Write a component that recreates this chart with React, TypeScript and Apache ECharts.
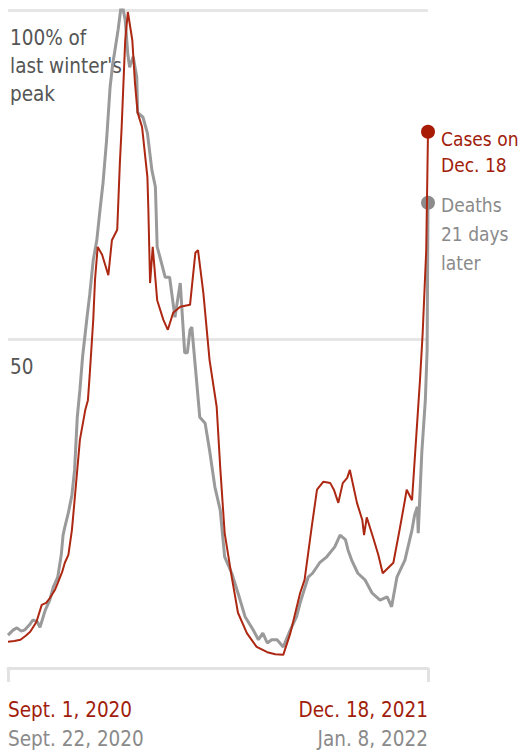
import React, { useEffect, useRef } from "react";
import * as echarts from "echarts";

// Days since Sept. 1, 2020 (cases) / since Sept. 22, 2020 (deaths)
const caseDays = [0, 7, 14, 20, 25, 32, 38, 43, 47, 53, 56, 61, 64, 68, 72, 75, 78, 81, 87, 90, 92, 96, 98, 101, 106, 113, 117, 123, 126, 128, 132, 135, 140, 143, 146, 151, 157, 158, 160, 163, 168, 175, 180, 186, 194, 205, 211, 214, 220, 227, 235, 239, 244, 252, 259, 269, 280, 292, 301, 310, 318, 329, 334, 342, 348, 355, 363, 367, 372, 377, 382, 385, 393, 399, 401, 404, 411, 417, 422, 434, 441, 447, 449, 455, 458, 461, 464, 467, 471, 473];
// Cases, % of last winter's peak
const cases = [4.0, 4.1, 4.3, 4.9, 5.5, 7.0, 9.6, 9.9, 10.6, 11.9, 12.9, 14.6, 16.0, 17.2, 21.0, 25.5, 30.1, 34.7, 39.2, 40.7, 44.5, 52.9, 59.0, 64.0, 62.8, 59.7, 65.0, 66.6, 76.8, 82.2, 95.4, 99.7, 95.4, 88.9, 84.4, 82.2, 74.6, 70.1, 58.5, 64.0, 55.9, 52.9, 51.4, 54.0, 54.9, 55.2, 63.1, 63.5, 57.0, 46.8, 39.7, 30.5, 20.5, 13.8, 8.4, 5.3, 3.2, 2.4, 2.1, 2.0, 5.3, 11.4, 13.4, 21.4, 27.1, 28.3, 28.1, 27.1, 25.1, 28.1, 28.9, 30.1, 25.1, 22.5, 20.2, 22.9, 19.9, 17.2, 14.4, 16.0, 21.0, 25.5, 27.1, 25.5, 31.6, 37.7, 43.8, 50.9, 63.5, 81.5];

const deathDays = [0, 6, 10, 15, 19, 25, 28, 33, 36, 42, 47, 51, 56, 60, 62, 64, 68, 72, 75, 78, 81, 84, 89, 92, 96, 100, 104, 107, 111, 115, 118, 120, 124, 128, 132, 135, 137, 141, 145, 146, 152, 157, 162, 166, 168, 171, 177, 182, 188, 194, 199, 202, 205, 207, 213, 216, 222, 227, 233, 239, 244, 252, 259, 267, 276, 282, 287, 292, 297, 303, 310, 318, 325, 329, 338, 343, 351, 359, 368, 374, 380, 383, 387, 394, 402, 410, 419, 427, 432, 438, 447, 455, 458, 461, 462, 466, 470, 472, 473];
// Deaths 21 days later, % of last winter's peak
const deaths = [5.0, 5.8, 6.1, 5.6, 5.8, 6.7, 7.3, 7.0, 6.2, 8.8, 10.3, 12.3, 13.8, 17.2, 20.2, 21.4, 23.6, 26.3, 30.1, 38.1, 42.3, 47.3, 53.3, 56.7, 62.0, 65.0, 70.1, 73.7, 80.2, 88.3, 91.9, 93.5, 97.0, 101.2, 98.5, 93.2, 91.3, 92.9, 89.8, 84.4, 83.7, 81.3, 75.7, 73.1, 64.0, 62.5, 59.4, 59.4, 53.3, 58.5, 47.9, 47.9, 51.4, 51.8, 42.7, 38.1, 37.2, 33.1, 27.5, 24.0, 16.9, 14.4, 11.4, 7.8, 5.8, 4.3, 5.3, 3.8, 4.3, 4.3, 3.2, 5.8, 7.8, 9.9, 13.8, 14.4, 16.0, 16.9, 18.4, 20.2, 19.5, 17.9, 16.4, 14.4, 13.4, 11.4, 10.3, 10.8, 9.3, 13.8, 16.4, 21.0, 23.3, 24.5, 20.5, 32.7, 40.7, 48.3, 70.7];

const yTickValues = [0, 50, 100];
const yTickLabels = ["", "50", "100% of\nlast winter's\npeak"];
const xTickValues = [0, 473];
const xCaseLabels = ["Sept. 1, 2020", "Dec. 18, 2021"];
const xDeathLabels = ["Sept. 22, 2020", "Jan. 8, 2022"];
const caseEndLabel = "Cases on\nDec. 18";
const deathEndLabel = "Deaths\n21 days\nlater";

const FONT = "'DejaVu Sans Condensed', 'Liberation Sans Narrow', sans-serif";
const RED_LINE = "#ad2812";
const RED_TEXT = "#a11d0b";
const GRAY_LINE = "#9a9a9a";
const GRAY_TEXT = "#8a8a8a";

export default function App() {
  const ref = useRef<HTMLDivElement>(null);
  useEffect(() => {
    if (!ref.current) return;
    const chart = echarts.init(ref.current, undefined, { renderer: "svg" });

    const buildData = (xs: number[], ys: number[], color: string, text: string, labelColor: string, dy: number, lh: number) =>
      ys.map((v, i) =>
        i === ys.length - 1
          ? {
              value: [xs[i], v],
              symbol: "circle",
              symbolSize: 14,
              itemStyle: { color },
              label: {
                show: true,
                position: [20, dy],
                align: "left",
                verticalAlign: "top",
                formatter: text,
                color: labelColor,
                fontSize: 19,
                lineHeight: lh,
                fontFamily: FONT,
              },
            }
          : [xs[i], v]
      );

    chart.setOption({
      animation: false,
      grid: { left: 8, right: 95, top: 10, bottom: 87, containLabel: false, outerBoundsMode: "none" },
      xAxis: {
        type: "value",
        min: 0,
        max: 473,
        splitLine: { show: false },
        axisLine: { show: true, lineStyle: { color: "#e2e2e2", width: 3 } },
        axisTick: {
          show: true,
          customValues: xTickValues,
          length: 14,
          lineStyle: { color: "#e2e2e2", width: 3 },
        },
        axisLabel: {
          show: true,
          customValues: xTickValues,
          margin: 27,
          alignMinLabel: "left",
          alignMaxLabel: "right",
          formatter: (val: number) => {
            const i = xTickValues.indexOf(val);
            if (i < 0) return "";
            return `{a|${xCaseLabels[i]}}\n{b|${xDeathLabels[i]}}`;
          },
          rich: {
            a: { color: RED_TEXT, fontSize: 20.5, lineHeight: 29, fontFamily: FONT },
            b: { color: GRAY_TEXT, fontSize: 20.5, lineHeight: 29, fontFamily: FONT },
          },
        },
      },
      yAxis: {
        type: "value",
        min: 0,
        max: 100,
        interval: 50,
        axisLine: { show: false },
        axisTick: { show: false },
        splitLine: { show: true, lineStyle: { color: "#e6e6e6", width: 3 } },
        axisLabel: {
          inside: true,
          margin: 2,
          align: "left",
          verticalAlign: "top",
          padding: [14, 0, 0, 0],
          color: "#555555",
          fontSize: 20.5,
          lineHeight: 28,
          fontFamily: FONT,
          formatter: (val: number) => {
            const i = yTickValues.indexOf(val);
            return i < 0 ? "" : yTickLabels[i];
          },
        },
      },
      series: [
        {
          type: "line",
          name: "Deaths",
          data: buildData(deathDays, deaths, "#8c8c8c", deathEndLabel, GRAY_TEXT, -5, 29),
          showSymbol: true,
          showAllSymbol: true,
          symbol: "circle",
          symbolSize: 0,
          lineStyle: { color: GRAY_LINE, width: 3 },
          itemStyle: { color: GRAY_LINE },
          z: 2,
        },
        {
          type: "line",
          name: "Cases",
          data: buildData(caseDays, cases, "#a81c06", caseEndLabel, RED_TEXT, 1, 26),
          showSymbol: true,
          showAllSymbol: true,
          symbol: "circle",
          symbolSize: 0,
          lineStyle: { color: RED_LINE, width: 2 },
          itemStyle: { color: RED_LINE },
          z: 3,
        },
      ],
    });
    return () => chart.dispose();
  }, []);
  return (
    <div
      ref={ref}
      style={{ position: "fixed", left: 0, top: 0, width: 523, height: 755, background: "#ffffff" }}
    />
  );
}
